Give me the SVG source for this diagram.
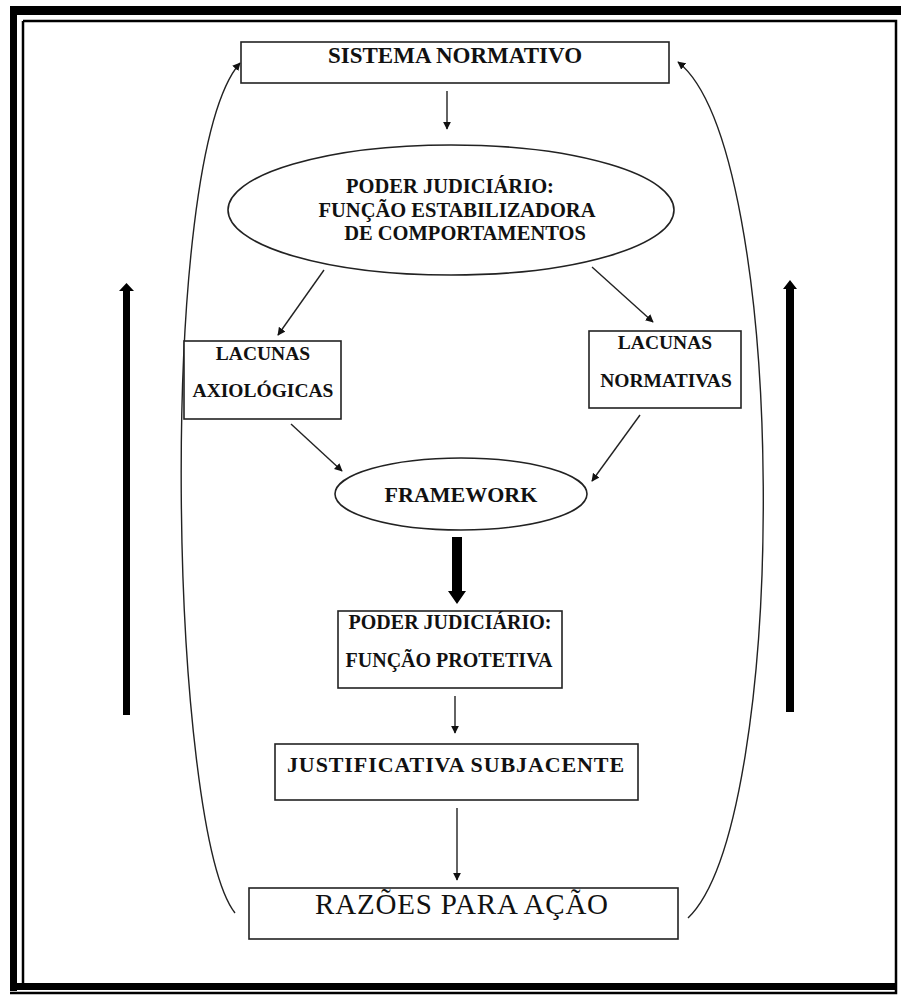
<svg xmlns="http://www.w3.org/2000/svg" width="901" height="995" viewBox="0 0 901 995">
  <defs>
    <marker id="head" viewBox="0 0 10 10" refX="9" refY="5" markerWidth="8" markerHeight="8" markerUnits="userSpaceOnUse" orient="auto">
      <path d="M0,0 L10,5 L0,10 z" fill="#111"/>
    </marker>
    <style>
      .box { fill: #fff; stroke: #222; stroke-width: 1.6; }
      .t { font-family: "Liberation Serif", "Times New Roman", serif; font-weight: bold; fill: #111; text-anchor: middle; }
      .arrow { fill: none; stroke: #222; stroke-width: 1.4; marker-end: url(#head); }
      .frame { fill: #000; }
    </style>
  </defs>
  <rect width="901" height="995" fill="#fff"/>

  <!-- page border: thick rule with a thin companion rule -->
  <g id="border">
    <rect class="frame" x="10" y="6" width="891" height="9"/>
    <rect class="frame" x="10" y="6" width="7" height="985"/>
    <rect class="frame" x="10" y="983" width="887" height="7"/>
    <path d="M23,21 H896 V993 H10 M23,21 V983" fill="none" stroke="#000" stroke-width="2.5"/>
  </g>

  <g id="connectors">
    <line class="arrow" x1="447" y1="91" x2="447" y2="129"/>
    <line class="arrow" x1="324" y1="270" x2="278" y2="335"/>
    <line class="arrow" x1="592" y1="267" x2="653" y2="322"/>
    <line class="arrow" x1="291" y1="424" x2="342" y2="471"/>
    <line class="arrow" x1="640" y1="415" x2="592" y2="481"/>
    <line class="arrow" x1="455" y1="696" x2="455" y2="733"/>
    <line class="arrow" x1="457" y1="808" x2="457" y2="880"/>
    <!-- heavy arrow from FRAMEWORK -->
    <path d="M452,537 L462,537 L462,591 L466,591 L457,604 L448,591 L452,591 z" fill="#000"/>
    <!-- feedback loops -->
    <path class="arrow" d="M235,913 C170,830 155,160 240,63"/>
    <path class="arrow" d="M688,918 C790,820 790,150 678,62"/>
    <!-- heavy side arrows -->
    <path d="M123,715 L130,715 L130,291 L134,291 L126.5,283 L119,291 L123,291 z" fill="#000"/>
    <path d="M786,712 L794,712 L794,289 L797,289 L790,280 L783,289 L786,289 z" fill="#000"/>
  </g>

  <g id="sistema-normativo">
    <rect class="box" x="241" y="42" width="428" height="41"/>
    <text class="t" x="455" y="63" font-size="23">SISTEMA NORMATIVO</text>
  </g>

  <g id="poder-estabilizador">
    <ellipse class="box" cx="451" cy="210" rx="223" ry="65"/>
    <text class="t" x="450" y="193" font-size="20.5">PODER JUDICIÁRIO:</text>
    <text class="t" x="457" y="217" font-size="20.5">FUNÇÃO ESTABILIZADORA</text>
    <text class="t" x="465" y="240" font-size="20.5">DE COMPORTAMENTOS</text>
  </g>

  <g id="lacunas-axiologicas">
    <rect class="box" x="184" y="341" width="157" height="78"/>
    <text class="t" x="263" y="360" font-size="19.5">LACUNAS</text>
    <text class="t" x="263" y="397" font-size="19.5">AXIOLÓGICAS</text>
  </g>

  <g id="lacunas-normativas">
    <rect class="box" x="589" y="331" width="152" height="77"/>
    <text class="t" x="665" y="349" font-size="19.5">LACUNAS</text>
    <text class="t" x="666" y="387" font-size="19.5">NORMATIVAS</text>
  </g>

  <g id="framework">
    <ellipse class="box" cx="461" cy="494" rx="126" ry="36"/>
    <text class="t" x="461" y="502" font-size="22">FRAMEWORK</text>
  </g>

  <g id="funcao-protetiva">
    <rect class="box" x="338" y="611" width="224" height="77"/>
    <text class="t" x="450" y="629" font-size="20">PODER JUDICIÁRIO:</text>
    <text class="t" x="449" y="667" font-size="20">FUNÇÃO PROTETIVA</text>
  </g>

  <g id="justificativa">
    <rect class="box" x="275" y="744" width="363" height="56"/>
    <text class="t" x="456" y="772" font-size="22" letter-spacing="0.9">JUSTIFICATIVA SUBJACENTE</text>
  </g>

  <g id="razoes">
    <rect class="box" x="249" y="888" width="429" height="51"/>
    <text x="462" y="914" font-size="29" font-family="Liberation Serif, Times New Roman, serif" text-anchor="middle" fill="#111" letter-spacing="0.8">RAZÕES PARA AÇÃO</text>
  </g>
</svg>
